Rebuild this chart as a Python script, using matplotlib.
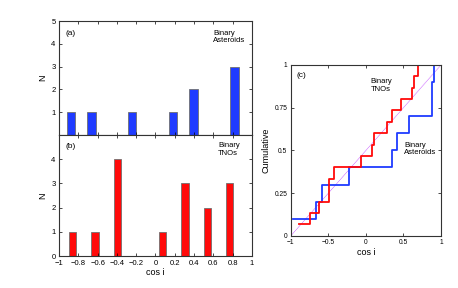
import numpy as np
import matplotlib.pyplot as plt

plt.rcParams['font.family'] = ['Liberation Sans', 'DejaVu Sans']

# histogram data (bin centers and counts)
ast_centers = [-0.877, -0.665, -0.241, 0.183, 0.395, 0.819]
ast_counts = [1, 1, 1, 1, 2, 3]
tno_centers = [-0.860, -0.627, -0.394, 0.072, 0.305, 0.538, 0.771]
tno_counts = [1, 1, 4, 1, 3, 2, 3]

# sorted cos i values for the cumulative plot
ast_cosi = [-0.969, -0.662, -0.587, -0.222, 0.347, 0.418, 0.578, 0.88, 0.88, 0.911]
tno_cosi = [-0.89, -0.747, -0.627, -0.49, -0.49, -0.427, -0.071, 0.08, 0.107,
            0.276, 0.342, 0.467, 0.618, 0.64, 0.689]

blue = '#1f3bff'
red = '#ff0a0a'
edge = '#707070'
xt = np.arange(-1, 1.01, 0.2)

fig = plt.figure(figsize=(4.58, 2.88), dpi=100)
ax1 = fig.add_axes([0.129, 0.531, 0.421, 0.396])
ax2 = fig.add_axes([0.129, 0.111, 0.421, 0.420])
ax3 = fig.add_axes([0.635, 0.181, 0.328, 0.594])

for ax in (ax1, ax2, ax3):
    ax.tick_params(direction='in', top=True, right=True, length=2.5, width=0.5,
                   labelsize=5.5)
    ax.tick_params(axis='x', pad=2.5)
    ax.tick_params(axis='y', pad=2.5)
    for s in ax.spines.values():
        s.set_linewidth(0.8)
        s.set_color('#333333')

# (a) binary asteroids
ax1.bar(ast_centers, ast_counts, width=0.087, color=blue, edgecolor=edge, linewidth=0.6)
ax1.set_xlim(-1, 1)
ax1.set_ylim(0, 5)
ax1.set_xticks(xt)
ax1.set_xticklabels([])
ax1.set_yticks([1, 2, 3, 4, 5])
ax1.set_ylabel('N', fontsize=6.5, labelpad=3)
ax1.text(-0.93, 4.6, '(a)', fontsize=6, va='top')
ax1.text(0.60, 4.62, 'Binary\nAsteroids', fontsize=5.5, linespacing=1.05, va='top')

# (b) binary TNOs
ax2.bar(tno_centers, tno_counts, width=0.075, color=red, edgecolor=edge, linewidth=0.6)
ax2.set_xlim(-1, 1)
ax2.set_ylim(0, 5)
ax2.set_xticks(xt)
ax2.set_xticklabels(['\u22121', '\u22120.8', '\u22120.6', '\u22120.4', '\u22120.2', '0',
                     '0.2', '0.4', '0.6', '0.8', '1'])
ax2.set_yticks([0, 1, 2, 3, 4])
ax2.set_ylabel('N', fontsize=6.5, labelpad=3)
ax2.set_xlabel('cos i', fontsize=6.5, labelpad=1)
ax2.text(-0.93, 4.68, '(b)', fontsize=6, va='top')
ax2.text(0.65, 4.7, 'Binary\nTNOs', fontsize=5.5, linespacing=1.05, va='top')

# (c) cumulative distributions
ax3.plot([-1, 1], [0, 1], color='#cc66ff', lw=0.6, ls=(0, (1, 0.6)))
ny = np.arange(1, len(ast_cosi) + 1) / len(ast_cosi)
ax3.step(ast_cosi, ny, where='post', color=blue, lw=1.3)
ny = np.arange(1, len(tno_cosi) + 1) / len(tno_cosi)
ax3.step(tno_cosi, ny, where='post', color=red, lw=1.3)
ax3.set_xlim(-1, 1)
ax3.set_ylim(0, 1)
ax3.set_xticks([-1, -0.5, 0, 0.5, 1])
ax3.set_xticklabels(['\u22121', '\u22120.5', '0', '0.5', '1'])
ax3.set_yticks([0, 0.25, 0.5, 0.75, 1])
ax3.set_yticklabels(['0', '0.25', '0.5', '0.75', '1'])
ax3.tick_params(labelsize=4.8)
ax3.set_xlabel('cos i', fontsize=6.5, labelpad=1)
ax3.set_ylabel('Cumulative', fontsize=6.5, labelpad=3)
ax3.text(-0.92, 0.955, '(c)', fontsize=6, va='top')
ax3.text(0.06, 0.92, 'Binary\nTNOs', fontsize=5.5, linespacing=1.05, va='top')
ax3.text(0.51, 0.55, 'Binary\nAsteroids', fontsize=5.5, linespacing=1.05, va='top')

fig.savefig('out.png', dpi=100)
